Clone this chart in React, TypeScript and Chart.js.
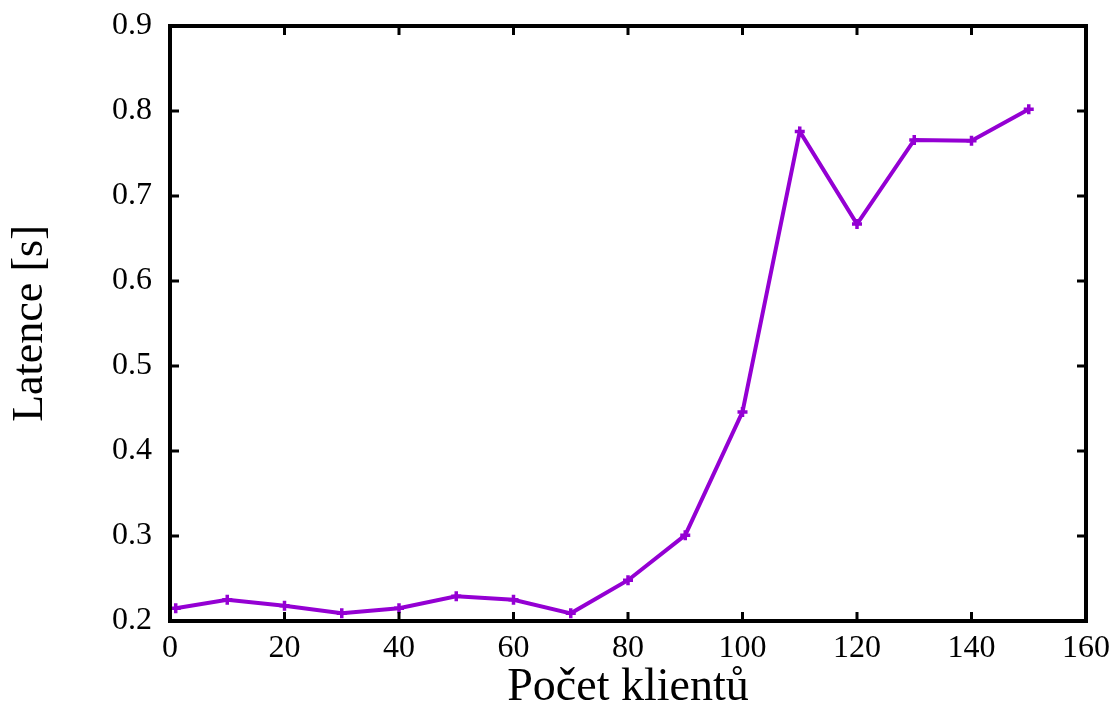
import React, { useEffect, useRef } from "react";
import { Chart, registerables } from "chart.js";

Chart.register(...registerables);

const clients = [1, 10, 20, 30, 40, 50, 60, 70, 80, 90, 100, 110, 120, 130, 140, 150];
const latency = [0.215, 0.225, 0.218, 0.209, 0.215, 0.229, 0.225, 0.209, 0.248, 0.301, 0.446, 0.776, 0.667, 0.766, 0.765, 0.802];
const xTicks = [0, 20, 40, 60, 80, 100, 120, 140, 160];
const yTicks = [0.2, 0.3, 0.4, 0.5, 0.6, 0.7, 0.8, 0.9];

const FONT = "'Liberation Serif', 'DejaVu Serif', serif";
const COLOR = "#9400D3";

const framePlugin = {
  id: "frame",
  afterDatasetsDraw(chart: any) {
    const { ctx, chartArea } = chart;
    const { left, right, top, bottom } = chartArea;
    const xs = chart.scales.x;
    const ys = chart.scales.y;
    ctx.save();
    ctx.strokeStyle = "#000";
    ctx.lineWidth = 3;
    const t = 9;
    ctx.beginPath();
    xTicks.forEach((v) => {
      const px = xs.getPixelForValue(v);
      if (v !== xTicks[0] && v !== xTicks[xTicks.length - 1]) {
        ctx.moveTo(px, bottom);
        ctx.lineTo(px, bottom - t);
        ctx.moveTo(px, top);
        ctx.lineTo(px, top + t);
      }
    });
    yTicks.forEach((v) => {
      const py = ys.getPixelForValue(v);
      if (v !== yTicks[0] && v !== yTicks[yTicks.length - 1]) {
        ctx.moveTo(left, py);
        ctx.lineTo(left + t, py);
        ctx.moveTo(right, py);
        ctx.lineTo(right - t, py);
      }
    });
    ctx.stroke();
    ctx.lineWidth = 4;
    ctx.strokeRect(left, top, right - left, bottom - top);
    ctx.restore();
  },
};

export default function App() {
  const ref = useRef<HTMLCanvasElement>(null);
  useEffect(() => {
    document.body.style.margin = "0";
    const chart = new Chart(ref.current!, {
      type: "line",
      data: {
        datasets: [
          {
            data: clients.map((c, i) => ({ x: c, y: latency[i] })),
            borderColor: COLOR,
            backgroundColor: COLOR,
            borderWidth: 4,
            pointStyle: "cross",
            pointRadius: 5,
            pointBorderWidth: 3.5,
            pointBorderColor: COLOR,
            tension: 0,
            fill: false,
          },
        ],
      },
      options: {
        animation: false,
        responsive: false,
        devicePixelRatio: 1,
        layout: { padding: { top: 26, right: 29, left: 0, bottom: 0 } },
        plugins: { legend: { display: false }, tooltip: { enabled: false } },
        scales: {
          x: {
            type: "linear",
            min: 0,
            max: 160,
            afterBuildTicks: (s: any) => {
              s.ticks = xTicks.map((v) => ({ value: v }));
            },
            afterFit: (s: any) => {
              s.height = 87;
              s.paddingLeft = 0;
              s.paddingRight = 0;
            },
            grid: { display: false, drawTicks: false },
            border: { display: false },
            ticks: {
              padding: 8,
              color: "#000",
              font: { family: FONT, size: 32 },
              maxRotation: 0,
              callback: (v: any) => String(v),
            },
            title: {
              display: true,
              text: "Počet klientů",
              color: "#000",
              font: { family: FONT, size: 46, lineHeight: 0.87 },
              padding: { top: 0, bottom: 0 },
            },
          },
          y: {
            type: "linear",
            min: 0.2,
            max: 0.9,
            afterBuildTicks: (s: any) => {
              s.ticks = yTicks.map((v) => ({ value: v }));
            },
            afterFit: (s: any) => {
              s.width = 170;
              s.paddingTop = 0;
              s.paddingBottom = 0;
            },
            grid: { display: false, drawTicks: false },
            border: { display: false },
            ticks: {
              padding: 18,
              color: "#000",
              font: { family: FONT, size: 32 },
              callback: (v: any) => Number(v).toFixed(1),
            },
            title: {
              display: true,
              text: "Latence [s]",
              color: "#000",
              font: { family: FONT, size: 44, lineHeight: 1 },
              padding: { top: 8, bottom: 0 },
            },
          },
        },
      },
      plugins: [framePlugin],
    });
    return () => chart.destroy();
  }, []);
  return (
    <div style={{ width: 1115, height: 708, background: "#fff" }}>
      <canvas ref={ref} width={1115} height={708} style={{ display: "block" }} />
    </div>
  );
}
